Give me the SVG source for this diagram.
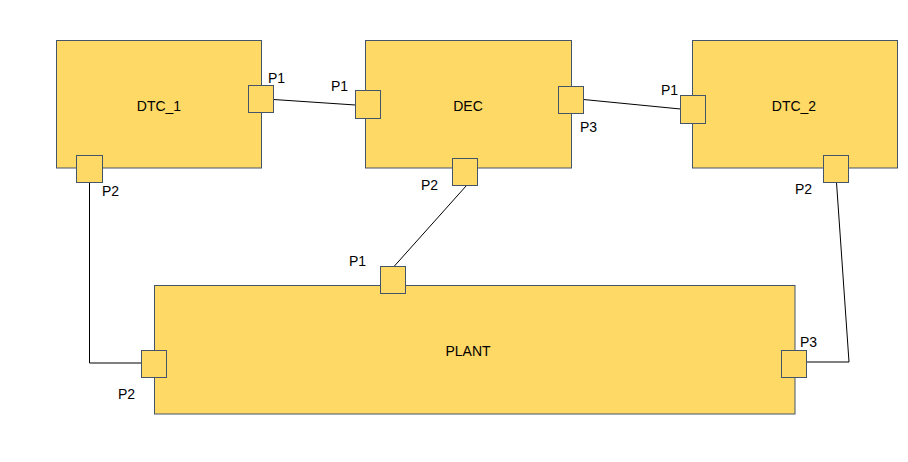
<svg xmlns="http://www.w3.org/2000/svg" width="908" height="462" viewBox="0 0 908 462">
<style>
.blk{fill:#FFD966;stroke:#44546A;stroke-width:1}
.port{fill:#FFD966;stroke:#44546A;stroke-width:1}
.w{fill:none;stroke:#000;stroke-width:1}
text{font-family:"Liberation Sans",Arial,sans-serif;font-size:14px;fill:#000}
.c{text-anchor:middle}
</style>
<rect width="908" height="462" fill="#fff"/>
<g id="connectors">
<path class="w" d="M273.5,99.5 L355.5,105"/>
<path class="w" d="M583.5,99.5 L680.5,109"/>
<path class="w" d="M89.5,182.5 V363 H141.5"/>
<path class="w" d="M466.5,185.5 L394,266.5"/>
<path class="w" d="M836.5,182.5 L849,362 H806.5"/>
</g>
<g id="DTC_1">
<rect class="blk" x="56.5" y="40.5" width="205" height="127.5"/>
<text class="c" x="159" y="111">DTC_1</text>
<rect class="port" x="248.5" y="85.5" width="25" height="27"/>
<text x="268" y="83">P1</text>
<rect class="port" x="76.5" y="155.5" width="26" height="27"/>
<text x="102" y="196">P2</text>
</g>
<g id="DEC">
<rect class="blk" x="365.5" y="40.5" width="206" height="127.5"/>
<text class="c" x="468" y="111">DEC</text>
<rect class="port" x="355.5" y="90.5" width="25" height="28"/>
<text x="331" y="91">P1</text>
<rect class="port" x="558.5" y="86.5" width="25" height="27"/>
<text x="580" y="132">P3</text>
<rect class="port" x="452.5" y="158.5" width="25" height="27"/>
<text x="421" y="190">P2</text>
</g>
<g id="DTC_2">
<rect class="blk" x="692.5" y="40.5" width="205" height="127.5"/>
<text class="c" x="794" y="111">DTC_2</text>
<rect class="port" x="680.5" y="95.5" width="25" height="28"/>
<text x="661" y="95">P1</text>
<rect class="port" x="823.5" y="155.5" width="25" height="27"/>
<text x="795" y="194">P2</text>
</g>
<g id="PLANT">
<rect class="blk" x="154.5" y="285.5" width="640.5" height="128.5"/>
<text class="c" x="468" y="356">PLANT</text>
<rect class="port" x="380.5" y="266.5" width="25" height="27"/>
<text x="349" y="266">P1</text>
<rect class="port" x="141.5" y="350.5" width="25" height="27"/>
<text x="118" y="399">P2</text>
<rect class="port" x="781.5" y="350.5" width="25" height="27"/>
<text x="800" y="347">P3</text>
</g>
</svg>
